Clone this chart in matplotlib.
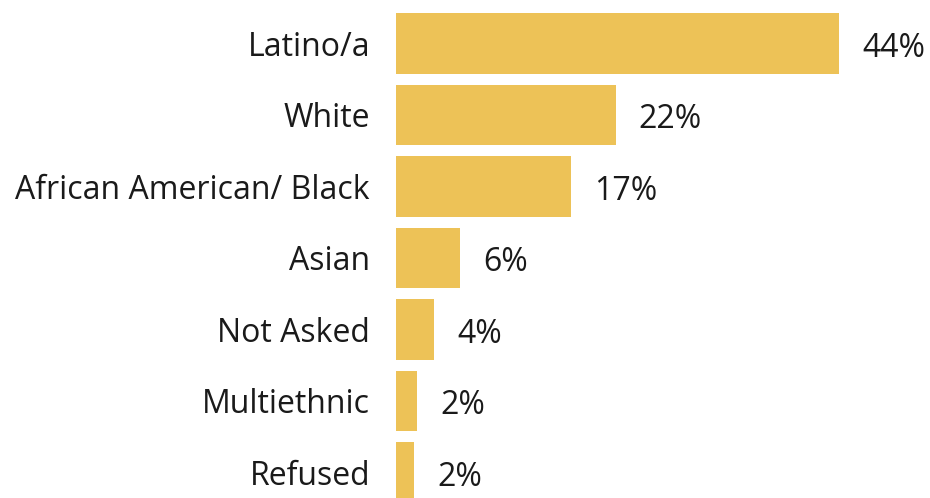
import matplotlib
matplotlib.use("Agg")
import matplotlib.pyplot as plt

categories = ["Latino/a", "White", "African American/ Black", "Asian",
              "Not Asked", "Multiethnic", "Refused"]
values = [44.0, 21.8, 17.4, 6.4, 3.8, 2.1, 1.8]

bar_color = "#EDC257"
text_color = "#1A1A1A"

plt.rcParams['font.family'] = ['Open Sans', 'DejaVu Sans']

fig = plt.figure(figsize=(9.3, 4.98), dpi=100)
ax = fig.add_axes([396 / 930, 0, 1 - 396 / 930, 1])

y = list(range(len(categories)))
ax.barh(y, values, height=0.85, color=bar_color)

for yi, v in zip(y, values):
    ax.annotate(f"{v:.0f}%", xy=(v, yi), xytext=(23, -5), textcoords="offset pixels",
                ha="left", va="center", fontsize=23, color=text_color)

ax.set_yticks(y)
ax.set_yticklabels(categories, fontsize=23, color=text_color)
ax.tick_params(axis="y", length=0, pad=18.7)
ax.set_xticks([])
ax.set_xlim(0, (930 - 396) / 10.07)
ax.set_ylim(6.357, -0.608)
for s in ax.spines.values():
    s.set_visible(False)

fig.savefig("out.png", dpi=100)
